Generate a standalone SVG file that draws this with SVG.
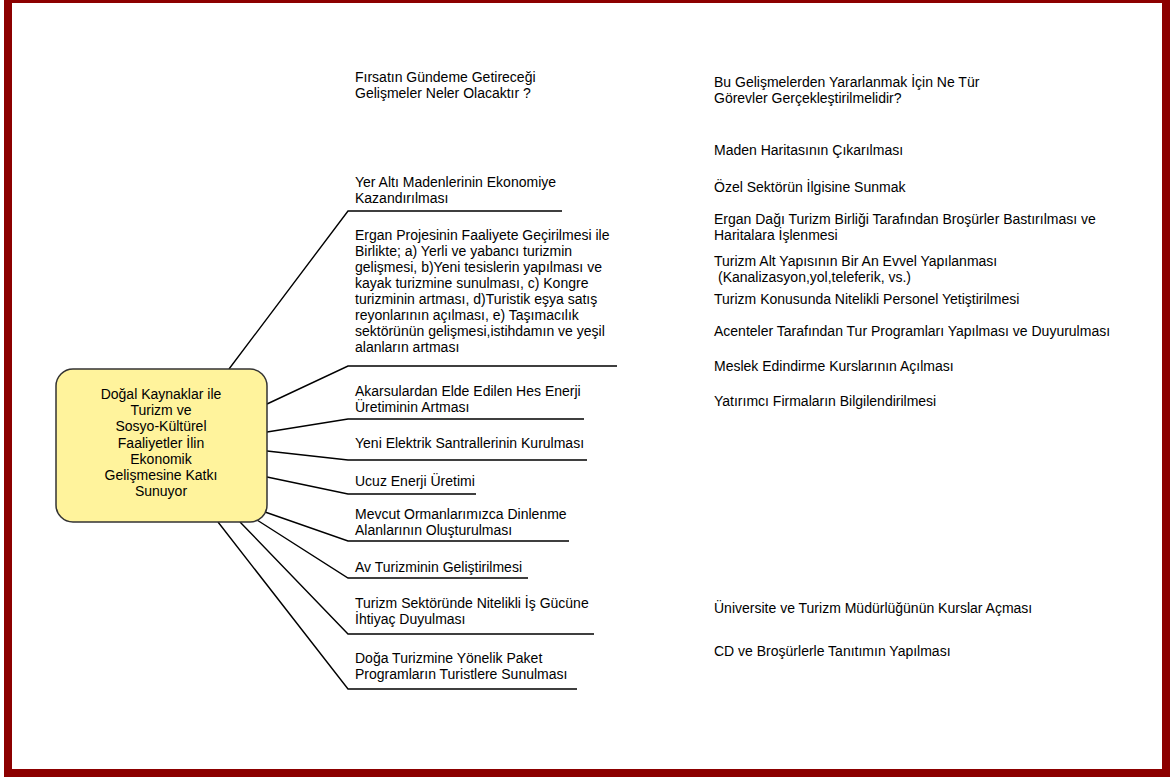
<svg xmlns="http://www.w3.org/2000/svg" width="1173" height="777" viewBox="0 0 1173 777">
<style>
text{font-family:"Liberation Sans",Arial,sans-serif;font-size:14px;fill:#000}
.c{text-anchor:middle}
.ln{fill:none;stroke:#000;stroke-width:1.4}
</style>
<rect width="1173" height="777" fill="#fff"/>
<path d="M4,-5H1170V777H4Z M12,3V769H1162V3Z" fill="#8c0000" fill-rule="evenodd"/>
<g id="connectors">
<polyline class="ln" points="229,369 348,211 562,211"/>
<polyline class="ln" points="267,404 348,366 617,366"/>
<polyline class="ln" points="267,432 348,419 584,419"/>
<polyline class="ln" points="267,451 348,460 587,460"/>
<polyline class="ln" points="267,477 348,494 476,494"/>
<polyline class="ln" points="265,512 348,541 569,541"/>
<polyline class="ln" points="257,520 348,578 528,578"/>
<polyline class="ln" points="240,522 348,634 594,634"/>
<polyline class="ln" points="218,522 348,689 577,689"/>
</g>
<g id="center">
<rect x="56" y="369" width="211" height="153" rx="17" fill="#fff39c" stroke="#333" stroke-width="1.5"/>
<text class="c" x="161" y="399">Doğal Kaynaklar ile</text>
<text class="c" x="161" y="415">Turizm ve</text>
<text class="c" x="161" y="431">Sosyo-Kültürel</text>
<text class="c" x="161" y="448">Faaliyetler İlin</text>
<text class="c" x="161" y="464">Ekonomik</text>
<text class="c" x="161" y="480">Gelişmesine Katkı</text>
<text class="c" x="161" y="496">Sunuyor</text>
</g>
<g id="header-left"><text x="355" y="82">Fırsatın Gündeme Getireceği</text><text x="355" y="98">Gelişmeler Neler Olacaktır ?</text></g>
<g id="header-right"><text x="714" y="87">Bu Gelişmelerden Yararlanmak İçin Ne Tür</text><text x="714" y="103">Görevler Gerçekleştirilmelidir?</text></g>
<g id="b1"><text x="355" y="187">Yer Altı Madenlerinin Ekonomiye</text><text x="355" y="203">Kazandırılması</text></g>
<g id="b2">
<text x="355" y="240">Ergan Projesinin Faaliyete Geçirilmesi ile</text>
<text x="355" y="256">Birlikte; a) Yerli ve yabancı turizmin</text>
<text x="355" y="272">gelişmesi, b)Yeni tesislerin yapılması ve</text>
<text x="355" y="288">kayak turizmine sunulması, c) Kongre</text>
<text x="355" y="304">turizminin artması, d)Turistik eşya satış</text>
<text x="355" y="320">reyonlarının açılması, e) Taşımacılık</text>
<text x="355" y="336">sektörünün gelişmesi,istihdamın ve yeşil</text>
<text x="355" y="352">alanların artması</text>
</g>
<g id="b3"><text x="355" y="396">Akarsulardan Elde Edilen Hes Enerji</text><text x="355" y="412">Üretiminin Artması</text></g>
<g id="b4"><text x="355" y="448">Yeni Elektrik Santrallerinin Kurulması</text></g>
<g id="b5"><text x="355" y="486">Ucuz Enerji Üretimi</text></g>
<g id="b6"><text x="355" y="519">Mevcut Ormanlarımızca Dinlenme</text><text x="355" y="535">Alanlarının Oluşturulması</text></g>
<g id="b7"><text x="355" y="572">Av Turizminin Geliştirilmesi</text></g>
<g id="b8"><text x="355" y="608">Turizm Sektöründe Nitelikli İş Gücüne</text><text x="355" y="624">İhtiyaç Duyulması</text></g>
<g id="b9"><text x="355" y="663">Doğa Turizmine Yönelik Paket</text><text x="355" y="679">Programların Turistlere Sunulması</text></g>
<g id="t1"><text x="714" y="155">Maden Haritasının Çıkarılması</text></g>
<g id="t2"><text x="714" y="192">Özel Sektörün İlgisine Sunmak</text></g>
<g id="t3"><text x="714" y="224">Ergan Dağı Turizm Birliği Tarafından Broşürler Bastırılması ve</text><text x="714" y="240">Haritalara İşlenmesi</text></g>
<g id="t4"><text x="714" y="266">Turizm Alt Yapısının Bir An Evvel Yapılanması</text><text x="718" y="282">(Kanalizasyon,yol,teleferik, vs.)</text></g>
<g id="t5"><text x="714" y="304">Turizm Konusunda Nitelikli Personel Yetiştirilmesi</text></g>
<g id="t6"><text x="714" y="336">Acenteler Tarafından Tur Programları Yapılması ve Duyurulması</text></g>
<g id="t7"><text x="714" y="371">Meslek Edindirme Kurslarının Açılması</text></g>
<g id="t8"><text x="714" y="406">Yatırımcı Firmaların Bilgilendirilmesi</text></g>
<g id="t9"><text x="714" y="613">Üniversite ve Turizm Müdürlüğünün Kurslar Açması</text></g>
<g id="t10"><text x="714" y="656">CD ve Broşürlerle Tanıtımın Yapılması</text></g>
</svg>
